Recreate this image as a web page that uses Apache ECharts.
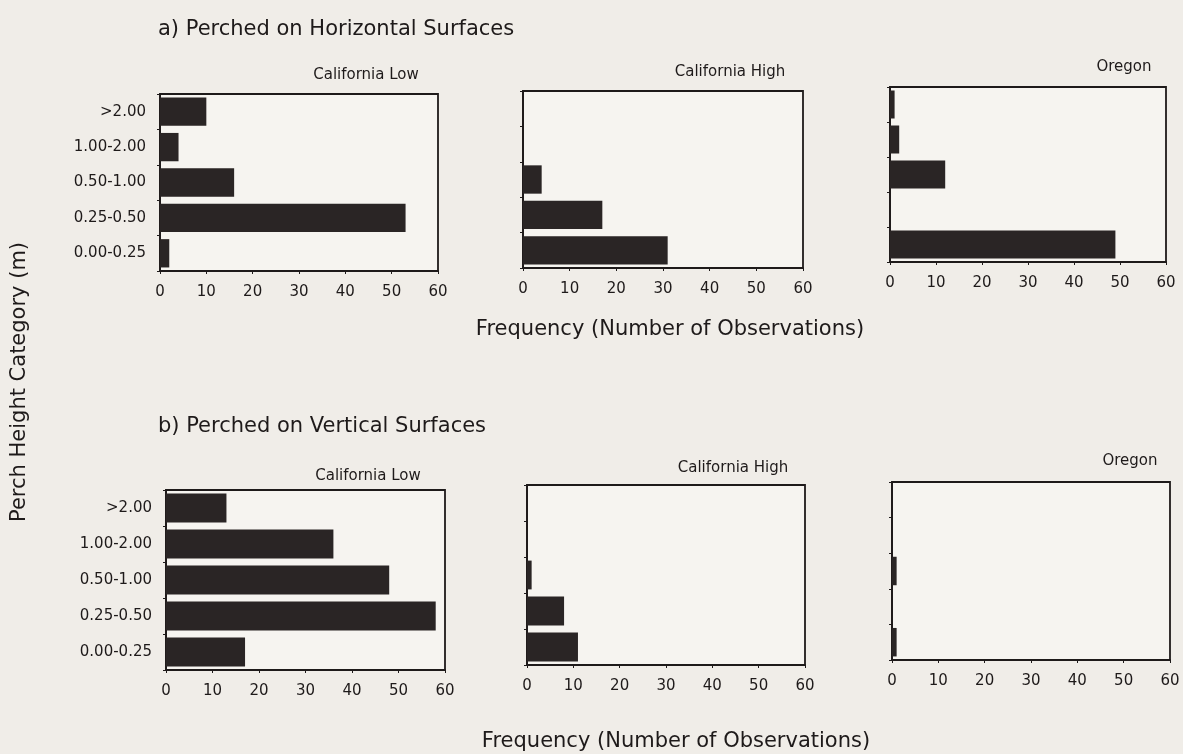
<!DOCTYPE html>
<html>
<head>
<meta charset="utf-8">
<script src="https://cdn.jsdelivr.net/npm/echarts@6/dist/echarts.min.js"></script>
<style>
  html, body { margin: 0; padding: 0; background: #f0ede8; }
  #chart { width: 1183px; height: 754px; }
</style>
</head>
<body>
<div id="chart"></div>
<script>
// Perch height categories, listed bottom to top
const categories = ['0.00-0.25', '0.25-0.50', '0.50-1.00', '1.00-2.00', '>2.00'];
const xTicks = [0, 10, 20, 30, 40, 50, 60];
const panelNames = ['California Low', 'California High', 'Oregon'];

// a) Perched on horizontal surfaces
const horizCaLow  = [2, 53, 16, 4, 10];
const horizCaHigh = [31, 17, 4, 0, 0];
const horizOregon = [49, 0, 12, 2, 1];

// b) Perched on vertical surfaces
const vertCaLow  = [17, 58, 48, 36, 13];
const vertCaHigh = [11, 8, 1, 0, 0];
const vertOregon = [1, 0, 1, 0, 0];

const FONT = '"DejaVu Sans", Verdana, sans-serif';
const INK = '#1e1a1a';

// panel frames in pixels: [left, top, width, height]
const frames = [
  [160, 94, 278, 177],
  [523, 91, 280, 177],
  [890, 87, 276, 175],
  [166, 490, 279, 180],
  [527, 485, 278, 180],
  [892, 482, 278, 178]
];
// caption centre of each panel: [x, y]
const captionPos = [[366, 75], [730, 72], [1124, 67], [368, 476], [733, 468], [1130, 461]];
const seriesData = [horizCaLow, horizCaHigh, horizOregon, vertCaLow, vertCaHigh, vertOregon];

const grid = [], xAxis = [], yAxis = [], series = [], texts = [];

function label(text, x, y, size, align, rotation) {
  return {
    type: 'text', x: x, y: y, silent: true, rotation: rotation || 0,
    style: { text: text, font: size + 'px ' + FONT, fill: INK, align: align || 'center', verticalAlign: 'middle' }
  };
}

frames.forEach((f, i) => {
  grid.push({
    left: f[0], top: f[1], width: f[2], height: f[3],
    show: true, backgroundColor: '#f6f4f0',
    borderColor: INK, borderWidth: 1.8
  });
  xAxis.push({
    gridIndex: i, type: 'value', min: xTicks[0], max: xTicks[xTicks.length - 1], interval: 10,
    axisLine: { show: true, lineStyle: { color: INK, width: 1.8 } },
    axisTick: { show: true, length: 3, lineStyle: { color: INK } },
    axisLabel: { color: INK, fontFamily: FONT, fontSize: 15, margin: 14 },
    splitLine: { show: false }
  });
  yAxis.push({
    gridIndex: i, type: 'category', data: categories,
    axisLine: { show: true, lineStyle: { color: INK, width: 1.8 } },
    axisTick: { show: true, length: 3, alignWithLabel: false, lineStyle: { color: INK } },
    axisLabel: { show: i % 3 === 0, color: INK, fontFamily: FONT, fontSize: 15, margin: 14 },
    splitLine: { show: false }
  });
  series.push({
    type: 'bar', xAxisIndex: i, yAxisIndex: i,
    data: seriesData[i], barWidth: '80%',
    itemStyle: { color: '#2a2525' },
    silent: true
  });
  texts.push(label(panelNames[i % 3], captionPos[i][0], captionPos[i][1], 15));
});

texts.push(
  label('a) Perched on Horizontal Surfaces', 158, 30, 21, 'left'),
  label('b) Perched on Vertical Surfaces', 158, 427, 21, 'left'),
  label('Frequency (Number of Observations)', 670, 330, 21),
  label('Frequency (Number of Observations)', 676, 742, 21),
  label('Perch Height Category (m)', 20, 382, 21, 'center', Math.PI / 2)
);

const chart = echarts.init(document.getElementById('chart'), null, { renderer: 'canvas' });
chart.setOption({
  backgroundColor: '#f0ede8',
  animation: false,
  grid: grid,
  xAxis: xAxis,
  yAxis: yAxis,
  series: series,
  graphic: texts
});
</script>
</body>
</html>
